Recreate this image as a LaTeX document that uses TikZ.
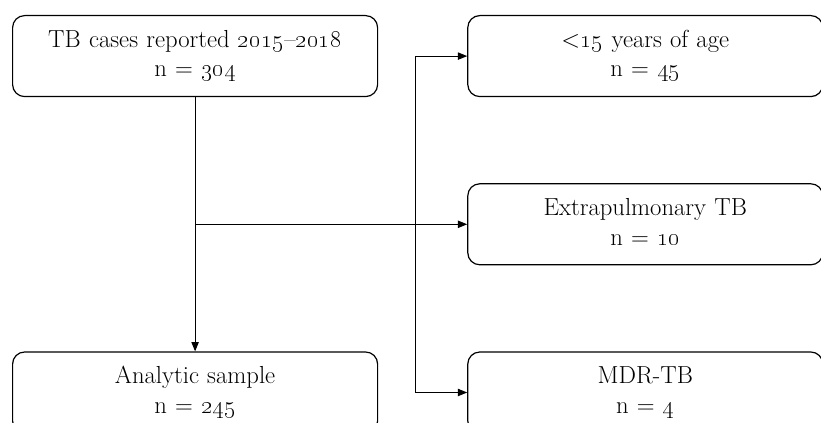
\documentclass[tikz,border=0pt]{standalone}
\usepackage{fix-cm}
\usetikzlibrary{arrows.meta,positioning,calc}

\begin{document}
\begin{tikzpicture}[
  font=\fontsize{18.5}{22}\selectfont,
  node distance=64.5pt and 66.75pt,
  box/.style={
    draw=black,
    rounded corners=9pt,
    line width=0.9pt,
    align=center,
    inner sep=0pt,
    text height=24pt,
    text depth=36.75pt
  },
  leftbox/.style={box, text width=273.75pt},
  rightbox/.style={box, text width=266.25pt},
  arrow/.style={-{Triangle[length=7pt,width=5.5pt]}, line width=0.8pt, draw=black}
]
\useasboundingbox (0,0) rectangle (615.75pt,-317.25pt);
\clip (0,0) rectangle (615.75pt,-317.25pt);

\node[leftbox, anchor=north west] (reported) at (9pt,-11.25pt) {TB cases reported \oldstylenums{2015}--\oldstylenums{2018}\\n = \oldstylenums{304}};
\node[rightbox, right=of reported] (young) {<\oldstylenums{15} years of age\\n = \oldstylenums{45}};
\node[rightbox, below=of young] (extra) {Extrapulmonary TB\\n = \oldstylenums{10}};
\node[rightbox, below=of extra] (mdr) {MDR-TB\\n = \oldstylenums{4}};
\node[leftbox] (sample) at (reported |- mdr) {Analytic sample\\n = \oldstylenums{245}};

\coordinate (split) at (reported |- extra);
\coordinate (fork) at ($(reported.east |- young)+(27.75pt,0)$);

\draw[arrow] (reported) -- (sample);
\draw[arrow] (split) -- (extra);
\draw[arrow] (fork) -- (young);
\draw[arrow] (fork) |- (mdr);

\end{tikzpicture}
\end{document}
